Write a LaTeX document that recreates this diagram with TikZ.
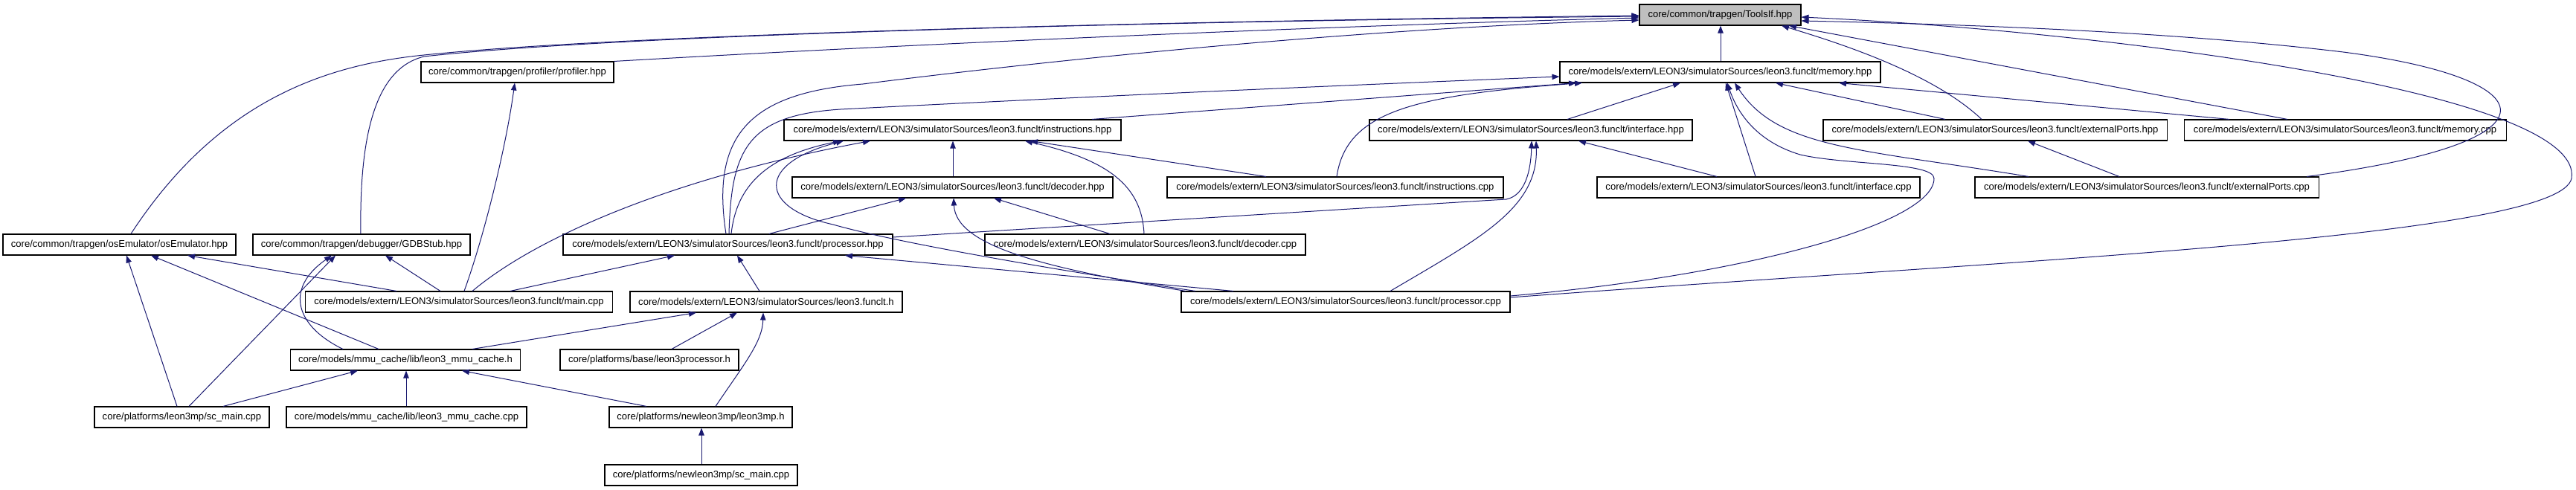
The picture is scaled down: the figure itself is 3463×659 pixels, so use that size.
\documentclass[tikz,border=0pt]{standalone}
\usepackage{fontspec}
\setmainfont{Liberation Sans}
\usetikzlibrary{arrows.meta}
\definecolor{edgec}{HTML}{191970}
\definecolor{rootfill}{HTML}{BFBFBF}
\tikzset{
 filebox/.style={draw=black, fill=white, line width=0.8pt, minimum height=21pt, inner sep=0pt, font=\fontsize{9.8}{12}\selectfont},
 rootbox/.style={filebox, fill=rootfill},
 dep/.style={draw=edgec, line width=0.75pt, -{Triangle[length=7.5pt,width=5.6pt]}},
}
\newcommand\mkfile[6][filebox]{\node[#1,minimum width=#5*0.75pt] (#2) at (#3,#4) {#6};}
\begin{document}
\begin{tikzpicture}[x=0.75pt,y=-0.75pt]
\useasboundingbox (0,0) rectangle (3463,659);
\mkfile[rootbox]{toolsif}{2312.5}{20}{217}{core/common/trapgen/ToolsIf.hpp}
\mkfile{profiler}{695.5}{97}{259}{core/common/trapgen/profiler/profiler.hpp}
\mkfile{memhpp}{2312.5}{97}{431}{core/models/extern/LEON3/simulatorSources/leon3.funclt/memory.hpp}
\mkfile{insthpp}{1280.5}{175}{453}{core/models/extern/LEON3/simulatorSources/leon3.funclt/instructions.hpp}
\mkfile{ifhpp}{2058}{175}{434}{core/models/extern/LEON3/simulatorSources/leon3.funclt/interface.hpp}
\mkfile{extphpp}{2682}{175}{462}{core/models/extern/LEON3/simulatorSources/leon3.funclt/externalPorts.hpp}
\mkfile{memcpp}{3152.5}{175}{433}{core/models/extern/LEON3/simulatorSources/leon3.funclt/memory.cpp}
\mkfile{dechpp}{1280.5}{252}{431}{core/models/extern/LEON3/simulatorSources/leon3.funclt/decoder.hpp}
\mkfile{instcpp}{1795}{252}{452}{core/models/extern/LEON3/simulatorSources/leon3.funclt/instructions.cpp}
\mkfile{ifcpp}{2364}{252}{434}{core/models/extern/LEON3/simulatorSources/leon3.funclt/interface.cpp}
\mkfile{extpcpp}{2886}{252}{462}{core/models/extern/LEON3/simulatorSources/leon3.funclt/externalPorts.cpp}
\mkfile{osemu}{160.5}{329}{313}{core/common/trapgen/osEmulator/osEmulator.hpp}
\mkfile{gdb}{486}{329}{292}{core/common/trapgen/debugger/GDBStub.hpp}
\mkfile{prochpp}{978.5}{329}{443}{core/models/extern/LEON3/simulatorSources/leon3.funclt/processor.hpp}
\mkfile{deccpp}{1539.5}{329}{431}{core/models/extern/LEON3/simulatorSources/leon3.funclt/decoder.cpp}
\mkfile{maincpp}{617}{406}{413}{core/models/extern/LEON3/simulatorSources/leon3.funclt/main.cpp}
\mkfile{functh}{1030}{406}{366}{core/models/extern/LEON3/simulatorSources/leon3.funclt.h}
\mkfile{proccpp}{1809}{406}{442}{core/models/extern/LEON3/simulatorSources/leon3.funclt/processor.cpp}
\mkfile{mmuh}{545}{484}{309}{core/models/mmu\_cache/lib/leon3\_mmu\_cache.h}
\mkfile{lproc}{873}{484}{240}{core/platforms/base/leon3processor.h}
\mkfile{scmain}{244.5}{561}{235}{core/platforms/leon3mp/sc\_main.cpp}
\mkfile{mmucpp}{546.5}{561}{323}{core/models/mmu\_cache/lib/leon3\_mmu\_cache.cpp}
\mkfile{lmph}{942}{561}{246}{core/platforms/newleon3mp/leon3mp.h}
\mkfile{nscmain}{942.5}{639}{259}{core/platforms/newleon3mp/sc\_main.cpp}
% edges to ToolsIf.hpp
\draw[dep] (memhpp.north -| 2313,0) -- (toolsif.south -| 2313,0);
\draw[dep] (profiler.north east) .. controls (1300,55) and (1850,33) .. (toolsif.west |- 0,24);
\draw[dep] (osemu.north -| 176,0) .. controls (290,140) and (430,88) .. (570,74) .. controls (850,45) and (1600,28) .. (toolsif.west |- 0,21);
\draw[dep] (gdb.north -| 485,0) .. controls (483,180) and (505,92) .. (570,76) .. controls (850,45) and (1600,28) .. (toolsif.west |- 0,22);
\draw[dep] (prochpp.north -| 976,0) .. controls (955,180) and (1010,125) .. (1160,113) .. controls (1500,70) and (1900,35) .. (toolsif.west |- 0,27);
\draw[dep] (extphpp.north -| 2664,0) .. controls (2600,100) and (2480,60) .. (toolsif.south -| 2395,0);
\draw[dep] (memcpp.north -| 3075,0) -- (toolsif.south -| 2405,0);
\draw[dep] (extpcpp.north -| 3101,0) .. controls (3460,190) and (3420,105) .. (3150,70) .. controls (2900,40) and (2600,32) .. (toolsif.east |- 0,28);
\draw[dep] (proccpp.east |- 0,400) .. controls (2700,350) and (3440,320) .. (3457,240) .. controls (3475,120) and (2800,40) .. (toolsif.east |- 0,23);
% edges to memory.hpp
\draw[dep] (prochpp.north -| 980,0) .. controls (983,200) and (1005,155) .. (1130,147) .. controls (1500,128) and (1800,115) .. (memhpp.west |- 0,103);
\draw[dep] (insthpp.north -| 1468,0) -- (memhpp.south -| 2119,0);
\draw[dep] (instcpp.north -| 1797,0) .. controls (1810,150) and (1900,128) .. (memhpp.south -| 2127,0);
\draw[dep] (ifhpp.north -| 2107,0) -- (memhpp.south -| 2259,0);
\draw[dep] (ifcpp.north -| 2360,0) -- (memhpp.south -| 2320,0);
\draw[dep] (proccpp.east |- 0,398) .. controls (2350,370) and (2600,300) .. (2600,240) .. controls (2600,218) and (2480,222) .. (2420,208) .. controls (2360,190) and (2335,150) .. (memhpp.south -| 2322,0);
\draw[dep] (extpcpp.north -| 2727,0) .. controls (2500,200) and (2390,200) .. (memhpp.south -| 2332,0);
\draw[dep] (extphpp.north -| 2615,0) -- (memhpp.south -| 2387,0);
\draw[dep] (memcpp.north -| 2997,0) -- (memhpp.south -| 2472,0);
% edges to instructions.hpp
\draw[dep] (prochpp.north -| 983,0) .. controls (990,250) and (1030,210) .. (insthpp.south -| 1130,0);
\draw[dep] (proccpp.north -| 1607,0) .. controls (1400,360) and (1200,325) .. (1120,302) .. controls (1020,280) and (1015,220) .. (insthpp.south -| 1134,0);
\draw[dep] (maincpp.north -| 635,0) .. controls (720,320) and (900,240) .. (insthpp.south -| 1170,0);
\draw[dep] (dechpp.north -| 1281,0) -- (insthpp.south -| 1281,0);
\draw[dep] (deccpp.north -| 1538,0) .. controls (1535,250) and (1490,215) .. (insthpp.south -| 1378,0);
\draw[dep] (instcpp.north -| 1702,0) -- (insthpp.south -| 1385,0);
% edges to interface.hpp / externalPorts.hpp
\draw[dep] (prochpp.east |- 0,319) -- (2025,268) .. controls (2050,263) and (2058,230) .. (ifhpp.south -| 2059,0);
\draw[dep] (proccpp.north -| 1869,0) .. controls (1990,320) and (2068,280) .. (ifhpp.south -| 2065,0);
\draw[dep] (ifcpp.north -| 2308,0) -- (ifhpp.south -| 2122,0);
\draw[dep] (extpcpp.north -| 2849,0) -- (extphpp.south -| 2726,0);
% edges to decoder.hpp
\draw[dep] (prochpp.north -| 1034,0) -- (dechpp.south -| 1218,0);
\draw[dep] (proccpp.north -| 1594,0) .. controls (1400,360) and (1285,330) .. (dechpp.south -| 1282,0);
\draw[dep] (deccpp.north -| 1492,0) -- (dechpp.south -| 1336,0);
% edges to processor.hpp
\draw[dep] (maincpp.north -| 686,0) -- (prochpp.south -| 907,0);
\draw[dep] (functh.north -| 1021,0) -- (prochpp.south -| 991,0);
\draw[dep] (proccpp.north -| 1658,0) -- (prochpp.south -| 1136,0);
% lower part
\draw[dep] (maincpp.north -| 533,0) -- (osemu.south -| 252,0);
\draw[dep] (maincpp.north -| 592,0) -- (gdb.south -| 518,0);
\draw[dep] (maincpp.north -| 624,0) .. controls (650,320) and (680,200) .. (profiler.south -| 692,0);
\draw[dep] (mmuh.north -| 509,0) -- (osemu.south -| 203,0);
\draw[dep] (mmuh.north -| 461,0) .. controls (400,440) and (380,390) .. (gdb.south -| 446,0);
\draw[dep] (mmuh.north -| 635,0) -- (functh.south -| 936,0);
\draw[dep] (scmain.north -| 238,0) -- (osemu.south -| 170,0);
\draw[dep] (scmain.north -| 254,0) -- (gdb.south -| 451,0);
\draw[dep] (scmain.north -| 300,0) -- (mmuh.south -| 481,0);
\draw[dep] (mmucpp.north -| 546,0) -- (mmuh.south -| 546,0);
\draw[dep] (lmph.north -| 869,0) -- (mmuh.south -| 621,0);
\draw[dep] (lmph.north -| 962,0) .. controls (1000,490) and (1025,460) .. (functh.south -| 1026,0);
\draw[dep] (lproc.north -| 903,0) -- (functh.south -| 991,0);
\draw[dep] (nscmain.north -| 943,0) -- (lmph.south -| 943,0);
\end{tikzpicture}
\end{document}
